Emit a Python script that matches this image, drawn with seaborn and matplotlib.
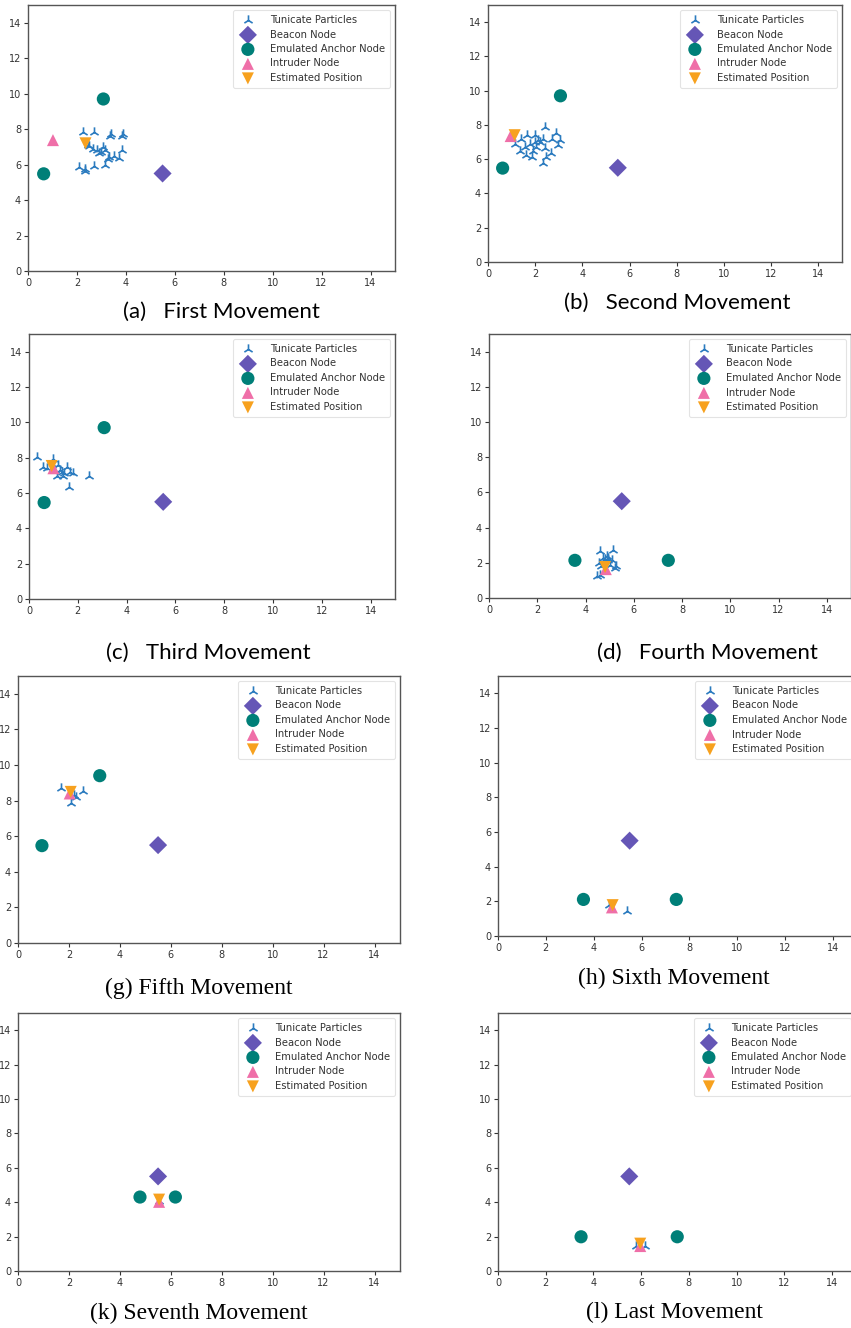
import matplotlib
matplotlib.use("Agg")
import matplotlib.pyplot as plt
import seaborn as sns
import pandas as pd

sns.set_style("white")
plt.rcParams['font.family'] = ['DejaVu Sans']
plt.rcParams['axes.edgecolor'] = '#555555'
plt.rcParams['axes.linewidth'] = 1.0
plt.rcParams['xtick.color'] = '#333333'
plt.rcParams['ytick.color'] = '#333333'

# ---------------- data ----------------
panel_ids = ["a", "b", "c", "d", "g", "h", "k", "l"]
captions = ["(a)   First Movement", "(b)   Second Movement", "(c)   Third Movement",
            "(d)   Fourth Movement", "(g) Fifth Movement", "(h) Sixth Movement",
            "(k) Seventh Movement", "(l) Last Movement"]
series_labels = ["Tunicate Particles", "Beacon Node", "Emulated Anchor Node",
                 "Intruder Node", "Estimated Position"]
ticks = [0, 2, 4, 6, 8, 10, 12, 14]

beacon_x = 5.5
beacon_y = 5.5

a_part_x = [2.25, 2.7, 3.35, 3.4, 3.85, 3.9, 2.45, 2.5, 2.65, 2.8, 2.9, 3.05, 3.15, 3.0, 3.3, 3.25,
            3.5, 3.7, 3.85, 2.1, 2.35, 2.7, 3.15, 2.35]
a_part_y = [7.85, 7.85, 7.6, 7.75, 7.6, 7.75, 7.1, 7.05, 6.9, 6.85, 6.65, 7.0, 6.8, 6.7, 6.45, 6.3,
            6.5, 6.4, 6.85, 5.85, 5.75, 5.9, 5.95, 5.65]
b_part_x = [2.4, 2.9, 2.7, 3.05, 2.95, 2.35, 2.0, 1.65, 1.4, 1.15, 1.35, 1.6, 1.85, 1.9, 2.05, 2.1,
            2.4, 2.65, 2.45, 2.35, 1.8, 2.0, 1.55, 2.2]
b_part_y = [7.9, 7.55, 7.2, 7.1, 6.8, 7.2, 7.4, 7.4, 7.2, 6.9, 6.5, 6.25, 6.15, 6.5, 6.7, 7.1,
            6.65, 6.35, 6.15, 5.75, 6.9, 7.0, 6.7, 7.0]
c_part_x = [0.32, 0.59, 0.97, 1.2, 1.34, 1.14, 1.55, 1.68, 1.82, 1.65, 2.46, 1.41, 0.75, 1.05, 1.25, 1.45]
c_part_y = [8.02, 7.49, 7.91, 7.59, 7.21, 6.97, 7.49, 7.21, 7.15, 6.36, 6.97, 6.97, 7.4, 7.3, 7.3, 7.15]
d_part_x = [4.59, 5.14, 4.73, 4.94, 5.08, 5.28, 5.21, 4.59, 4.46, 4.66, 4.87, 4.57, 5.01, 4.8, 4.95]
d_part_y = [2.65, 2.74, 2.27, 2.17, 2.17, 1.8, 1.7, 1.32, 1.23, 1.8, 2.36, 1.98, 1.89, 2.2, 2.3]
g_part_x = [1.7, 2.55, 2.09, 2.29, 2.2]
g_part_y = [8.73, 8.54, 7.87, 8.2, 8.3]
h_part_x = [5.39, 4.62]
h_part_y = [1.46, 1.78]
k_part_x = [5.54]
k_part_y = [4.07]
l_part_x = [5.8, 6.15]
l_part_y = [1.45, 1.45]

anchor_x = {"a": [3.08, 0.64], "b": [3.07, 0.62], "c": [3.08, 0.62], "d": [3.56, 7.43],
            "g": [3.21, 0.94], "h": [3.57, 7.45], "k": [4.79, 6.18], "l": [3.48, 7.51]}
anchor_y = {"a": [9.7, 5.48], "b": [9.7, 5.48], "c": [9.7, 5.46], "d": [2.14, 2.14],
            "g": [9.4, 5.47], "h": [2.11, 2.11], "k": [4.3, 4.3], "l": [1.99, 1.99]}
intruder_x = [1.02, 0.96, 1.0, 4.84, 2.03, 4.76, 5.54, 5.96]
intruder_y = [7.38, 7.35, 7.4, 1.64, 8.4, 1.65, 4.02, 1.45]
estimated_x = [2.35, 1.13, 0.93, 4.81, 2.07, 4.79, 5.54, 5.96]
estimated_y = [7.2, 7.4, 7.53, 1.76, 8.49, 1.78, 4.15, 1.59]

particles_x = [a_part_x, b_part_x, c_part_x, d_part_x, g_part_x, h_part_x, k_part_x, l_part_x]
particles_y = [a_part_y, b_part_y, c_part_y, d_part_y, g_part_y, h_part_y, k_part_y, l_part_y]

# ---------------- layout (pixel boxes: left, right, top, bottom) ----------------
W, H = 851, 1328
boxes = [(28, 395, 5, 271), (488, 842, 5, 262), (29, 395, 334, 599), (489, 851, 334, 598),
         (18, 400, 676, 943), (498, 857, 676, 936), (18, 400, 1013, 1271), (498, 856, 1013, 1271)]
cap_pos = [(221, 312), (677, 303), (208, 653), (707, 653),
           (199, 988), (674, 978), (199, 1313), (674, 1312)]
cap_serif = [False, False, False, False, True, True, True, True]

col_part = "#2b7bbf"
col_beacon = "#6556b6"
col_anchor = "#007f78"
col_intr = "#ef6fa8"
col_est = "#f7a11e"

fig = plt.figure(figsize=(W / 100, H / 100), dpi=100)

for i, pid in enumerate(panel_ids):
    l, r, t, b = boxes[i]
    ax = fig.add_axes([l / W, 1 - b / H, (r - l) / W, (b - t) / H])
    sns.scatterplot(x=particles_x[i], y=particles_y[i], marker="2", s=55, color=col_part,
                    linewidth=1.2, label=series_labels[0], ax=ax)
    sns.scatterplot(x=[beacon_x], y=[beacon_y], marker="D", s=85, color=col_beacon,
                    edgecolor="none", label=series_labels[1], ax=ax)
    sns.scatterplot(x=anchor_x[pid], y=anchor_y[pid], marker="o", s=90, color=col_anchor,
                    edgecolor="none", label=series_labels[2], ax=ax)
    sns.scatterplot(x=[intruder_x[i]], y=[intruder_y[i]], marker="^", s=75, color=col_intr,
                    edgecolor="none", label=series_labels[3], ax=ax)
    sns.scatterplot(x=[estimated_x[i]], y=[estimated_y[i]], marker="v", s=75, color=col_est,
                    edgecolor="none", label=series_labels[4], ax=ax)
    ax.set_xlim(0, 15)
    ax.set_ylim(0, 15)
    ax.set_xticks(ticks)
    ax.set_yticks(ticks)
    ax.tick_params(axis="both", labelsize=7, length=3, width=0.8, direction="out",
                   bottom=True, left=True, pad=2)
    for sp in ax.spines.values():
        sp.set_visible(True)
        sp.set_color("#555555")
    leg = ax.legend(loc="upper right", fontsize=7.2, frameon=True, labelspacing=0.45,
                    handletextpad=1.2, borderpad=0.5, markerscale=1.0)
    leg.get_frame().set_edgecolor("#dddddd")
    leg.get_frame().set_linewidth(0.8)
    for txt in leg.get_texts():
        txt.set_color("#333333")
    cx, cy = cap_pos[i]
    if cap_serif[i]:
        fig.text(cx / W, 1 - cy / H, captions[i], ha="center", va="center",
                 fontsize=17, family=["Liberation Serif"], color="black")
    else:
        fig.text(cx / W, 1 - cy / H, captions[i], ha="center", va="center",
                 fontsize=16, family=["Lato", "DejaVu Sans"], color="black")

fig.savefig("out.png", dpi=100, facecolor="white")
